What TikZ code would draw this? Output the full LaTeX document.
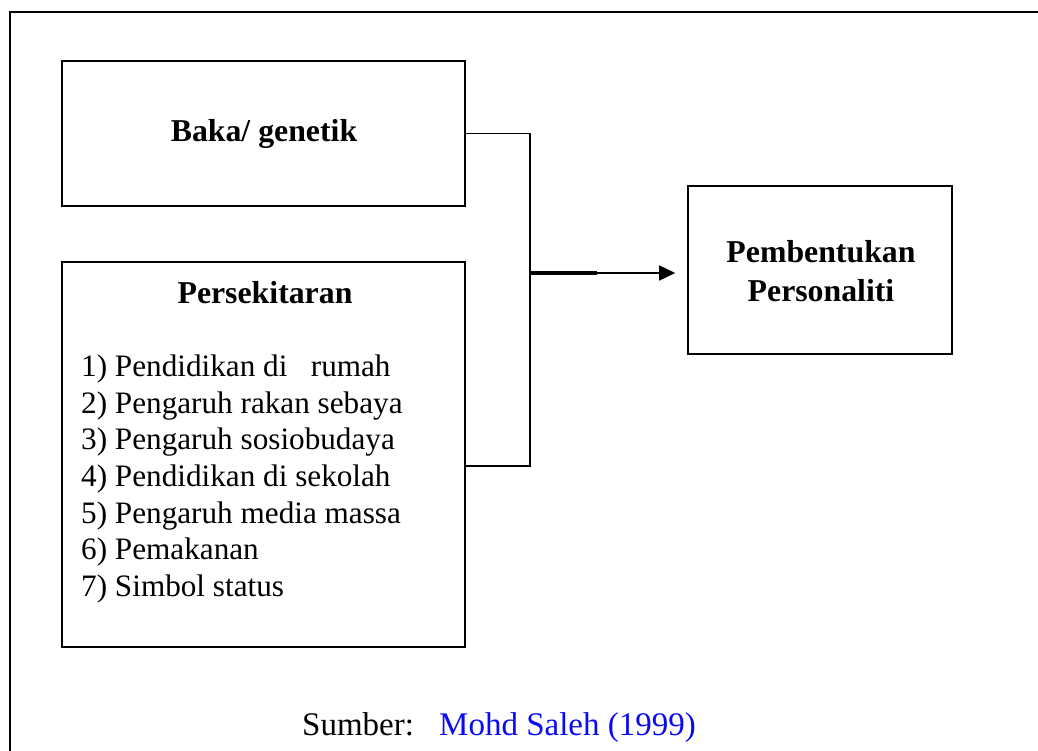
\documentclass[tikz,border=0pt]{standalone}
\usepackage{fontspec}
\setmainfont{Liberation Serif}
\usetikzlibrary{arrows.meta}
\definecolor{srcblue}{RGB}{10,10,245}
\begin{document}
\begin{tikzpicture}[x=1pt,y=-1pt,
  boxstyle/.style={draw, line width=1.6pt, inner sep=0pt},
  conn/.style={line width=1.6pt},
  boldtext/.style={font=\fontsize{31.8}{36}\selectfont\bfseries, inner sep=0pt, anchor=base},
  listtext/.style={font=\fontsize{31.2}{36}\selectfont, inner sep=0pt, anchor=base west},
  srctext/.style={font=\fontsize{33}{36}\selectfont, inner sep=0pt, anchor=base west}]
\useasboundingbox (0,0) rectangle (1038,751);
% outer frame
\draw[line width=2.4pt] (10,760) -- (10,12) -- (1045,12);
% boxes
\node[boxstyle, minimum width=403pt, minimum height=145pt] (baka) at (263.5,133.5) {};
\node[boxstyle, minimum width=403pt, minimum height=385pt] (pers) at (263.5,454.5) {};
\node[boxstyle, minimum width=264pt, minimum height=168pt] (pemb) at (820,270) {};
% texts
\node[boldtext] (tbaka) at (264,142) {Baka/ genetik};
\node[boldtext] (tpers) at (265,303) {Persekitaran};
\node[boldtext] (tpemb1) at (821,262) {Pembentukan};
\node[boldtext] (tpemb2) at (821,301) {Personaliti};
\node[listtext] (l1) at (81,376) {1) Pendidikan di\ \ \ rumah};
\node[listtext] (l2) at (81,413) {2) Pengaruh rakan sebaya};
\node[listtext] (l3) at (81,449) {3) Pengaruh sosiobudaya};
\node[listtext] (l4) at (81,486) {4) Pendidikan di sekolah};
\node[listtext] (l5) at (81,523) {5) Pengaruh media massa};
\node[listtext] (l6) at (81,559) {6) Pemakanan};
\node[listtext] (l7) at (81,596) {7) Simbol status};
\node[srctext] (src1) at (302,735) {Sumber:};
\node[srctext, text=srcblue] (src2) at (439,735) {Mohd Saleh (1999)};
% connectors
\coordinate (jtop) at (530,133.5);
\coordinate (jbot) at (530,466);
\coordinate (pjoin) at (465,466);
\coordinate (jmid) at (530,273);
\coordinate (jthick) at (597,273);
\draw[conn] (baka.east) -- (jtop) -- (jbot) -- (pjoin);
\draw[line width=3.2pt] (jmid) -- (jthick);
\draw[conn, -{Triangle[length=16pt,width=15pt]}, shorten >=12pt] (jthick) -- (pemb.west |- jmid);
\end{tikzpicture}
\end{document}
